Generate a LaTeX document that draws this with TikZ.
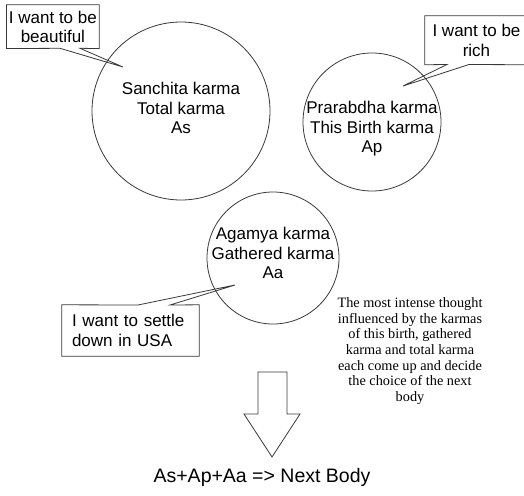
\documentclass[tikz,border=0pt]{standalone}
\usepackage{fontspec}
\setmainfont{Liberation Sans}
\newfontfamily\serifface{Liberation Serif}
\begin{document}
\begin{tikzpicture}[x=1pt,y=-1pt,
  outline/.style={draw=black!78,line width=0.8pt},
  karmaring/.style={outline,circle,inner sep=0pt},
  karmatext/.style={align=center,inner sep=0pt,font=\fontsize{17}{19.5}\selectfont},
  calloutbox/.style={rectangle,inner sep=0pt,font=\fontsize{17}{19.5}\selectfont},
  notetext/.style={align=center,inner sep=0pt,font=\serifface\fontsize{14.3}{15.7}\selectfont},
  resulttext/.style={inner sep=0pt,font=\fontsize{19.5}{22}\selectfont}]
\useasboundingbox (0,0) rectangle (524,495);

% the three karma circles
\node[karmaring,minimum size=178pt] (sanchita) at (181,111) {};
\node[karmatext] (sanchitatext) at (181,108) {Sanchita karma\\Total karma\\As};

\node[karmaring,minimum size=138pt] (prarabdha) at (372,122) {};
\node[karmatext] (prarabdhatext) at (372,129) {Prarabdha karma\\This Birth karma\\Ap};

\node[karmaring,minimum size=132pt] (agamya) at (273,258) {};
\node[karmatext] (agamyatext) at (273,253) {Agamya karma\\Gathered karma\\Aa};

% callout 1
\node[calloutbox,minimum width=92.3pt,minimum height=43.3pt,align=center] (wish1) at (52.9,26.7) {I want to be\\beautiful};
\coordinate (w1a) at (60,48.3);
\coordinate (w1b) at (80,48.3);
\coordinate (w1tip) at (123,67);
\draw[outline,line join=miter] (wish1.north west) -- (wish1.north east) -- (wish1.south east)
  -- (w1b) -- (w1tip) -- (w1a) -- (wish1.south west) -- cycle;

% callout 2
\node[calloutbox,minimum width=103pt,minimum height=48.5pt,align=center] (wish2) at (476.5,40.3) {I want to be\\rich};
\coordinate (w2a) at (447,64.5);
\coordinate (w2b) at (469,64.5);
\coordinate (w2tip) at (403,86);
\draw[outline,line join=miter] (wish2.north west) -- (wish2.north east) -- (wish2.south east)
  -- (w2b) -- (w2tip) -- (w2a) -- (wish2.south west) -- cycle;

% callout 3
\node[calloutbox,minimum width=137pt,minimum height=51pt,text width=117pt,align=left] (wish3) at (130.5,330.5) {I want to settle\\down in USA};
\coordinate (w3a) at (138,305);
\coordinate (w3b) at (170,305);
\coordinate (w3tip) at (235,285);
\draw[outline,line join=miter] (wish3.south west) -- (wish3.north west) -- (w3a) -- (w3tip)
  -- (w3b) -- (wish3.north east) -- (wish3.south east) -- cycle;

% explanatory note
\node[notetext] (note) at (410,351) {The most intense thought\\influenced by the karmas\\of this birth, gathered\\karma and total karma\\each come up and decide\\the choice of the next\\body};

% block arrow down to the result
\draw[outline,line join=miter] (258,372) -- (287,372) -- (287,414) -- (300,414) -- (272,457)
  -- (244,414) -- (258,414) -- cycle;

\node[resulttext] (result) at (262,477) {As+Ap+Aa => Next Body};
\end{tikzpicture}
\end{document}
